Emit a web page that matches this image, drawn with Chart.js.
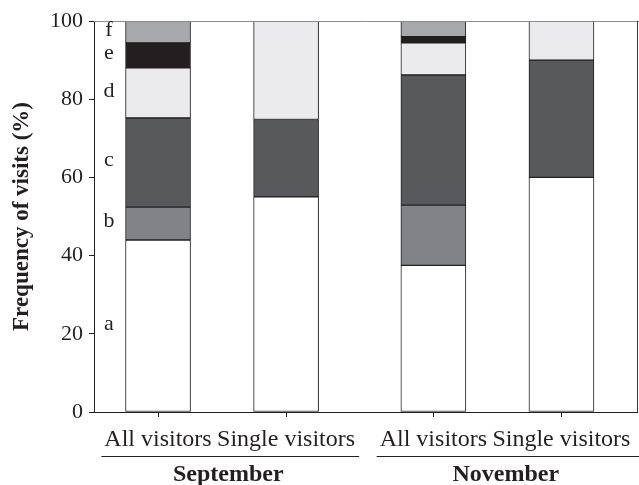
<!DOCTYPE html>
<html>
<head>
<meta charset="utf-8">
<script src="https://cdn.jsdelivr.net/npm/chart.js@4/dist/chart.umd.min.js"></script>
<style>
  html, body { margin: 0; padding: 0; background: #fff; }
  #wrap { width: 639px; height: 485px; position: relative; }
</style>
</head>
<body>
<div id="wrap"><canvas id="visitsChart"></canvas></div>
<script>
(function () {
  'use strict';

  // data (% of visits)
  var barLabels = ['All visitors', 'Single visitors', 'All visitors', 'Single visitors'];
  var months = ['September', 'November'];
  var segmentNames = ['a', 'b', 'c', 'd', 'e', 'f'];
  var segA = [44.0, 55.0, 37.5, 60.0];
  var segB = [8.4, 0, 15.4, 0];
  var segC = [22.8, 19.8, 33.3, 30.0];
  var segD = [12.8, 25.2, 8.2, 10.0];
  var segE = [6.4, 0, 1.6, 0];
  var segF = [5.6, 0, 4.0, 0];
  var yTicks = [0, 20, 40, 60, 80, 100];

  var segments = [segA, segB, segC, segD, segE, segF];
  var fills = ['#ffffff', '#828386', '#58595b', '#ebebed', '#231f20', '#a7a8ab'];
  var ink = '#231f20';
  var serif = '"Liberation Serif", "Times New Roman", serif';

  // slot of each bar on the x axis (wider gap between the two months)
  var xSlot = [0.5, 1.5, 2.65, 3.65];

  var datasets = segments.map(function (values, i) {
    return {
      label: segmentNames[i],
      stack: 'visits',
      data: values.map(function (v, j) { return { x: xSlot[j], y: v }; }),
      backgroundColor: fills[i],
      borderColor: ink,
      borderWidth: 1,
      borderSkipped: false,
      barThickness: 65
    };
  });

  var decorations = {
    id: 'decorations',
    afterDraw: function (chart) {
      var ctx = chart.ctx;
      var area = chart.chartArea;
      var xs = chart.scales.x;
      var ys = chart.scales.y;
      ctx.save();

      // top and right frame
      ctx.lineWidth = 1;
      ctx.strokeStyle = '#8c8c8c';
      ctx.beginPath();
      ctx.moveTo(area.left, Math.round(area.top) + 0.5);
      ctx.lineTo(chart.width, Math.round(area.top) + 0.5);
      ctx.stroke();
      ctx.strokeStyle = '#3a3a3a';
      ctx.beginPath();
      ctx.moveTo(Math.round(area.right) + 0.5, area.top);
      ctx.lineTo(Math.round(area.right) + 0.5, area.bottom);
      ctx.stroke();

      // segment letters next to the first bar
      ctx.fillStyle = ink;
      ctx.font = '22px ' + serif;
      ctx.textAlign = 'center';
      ctx.textBaseline = 'middle';
      var base = 0;
      segments.forEach(function (values, i) {
        var mid = base + values[0] / 2;
        base += values[0];
        ctx.fillText(segmentNames[i], area.left + 15, ys.getPixelForValue(mid) - 2);
      });

      // month groups with rule above
      ctx.font = '24px ' + serif;
      var lineY = 456.5;
      months.forEach(function (m, k) {
        var i0 = k * 2, i1 = k * 2 + 1;
        var left = xs.getPixelForValue(xSlot[i0]) - ctx.measureText(barLabels[i0]).width / 2 - 3;
        var right = xs.getPixelForValue(xSlot[i1]) + ctx.measureText(barLabels[i1]).width / 2 + 4;
        if (k === months.length - 1) right = chart.width;
        ctx.strokeStyle = ink;
        ctx.beginPath();
        ctx.moveTo(left, lineY);
        ctx.lineTo(right, lineY);
        ctx.stroke();
        ctx.save();
        ctx.font = 'bold 24px ' + serif;
        ctx.fillText(m, (left + right) / 2 - 2, 475);
        ctx.restore();
      });
      ctx.restore();
    }
  };

  new Chart(document.getElementById('visitsChart'), {
    type: 'bar',
    data: { datasets: datasets },
    plugins: [decorations],
    options: {
      responsive: true,
      maintainAspectRatio: false,
      animation: false,
      layout: { padding: { left: 0, top: 21, right: 2, bottom: 0 } },
      plugins: { legend: { display: false }, tooltip: { enabled: false } },
      scales: {
        x: {
          type: 'linear',
          offset: false,
          min: 0,
          max: 4.24,
          afterBuildTicks: function (scale) {
            scale.ticks = xSlot.map(function (v) { return { value: v }; });
          },
          afterFit: function (scale) { scale.height = 73; },
          grid: { display: true, offset: false, drawOnChartArea: false, drawTicks: true, tickLength: 5, color: ink },
          border: { display: true, color: ink, width: 1 },
          ticks: {
            autoSkip: false,
            maxRotation: 0,
            padding: 8,
            color: ink,
            font: { family: serif, size: 24 },
            callback: function (value, index) { return barLabels[index]; }
          }
        },
        y: {
          stacked: true,
          min: 0,
          max: 100,
          afterBuildTicks: function (scale) {
            scale.ticks = yTicks.map(function (v) { return { value: v }; });
          },
          afterFit: function (scale) { scale.width = 94; },
          grid: { display: true, drawOnChartArea: false, drawTicks: true, tickLength: 5, color: ink },
          border: { display: true, color: ink, width: 1 },
          ticks: { padding: 6, color: ink, font: { family: serif, size: 22 } },
          title: {
            display: true,
            text: 'Frequency of visits (%)',
            color: ink,
            font: { family: serif, size: 23, weight: 'bold' },
            padding: { top: 8, bottom: 0 }
          }
        }
      }
    }
  });
})();
</script>
</body>
</html>
